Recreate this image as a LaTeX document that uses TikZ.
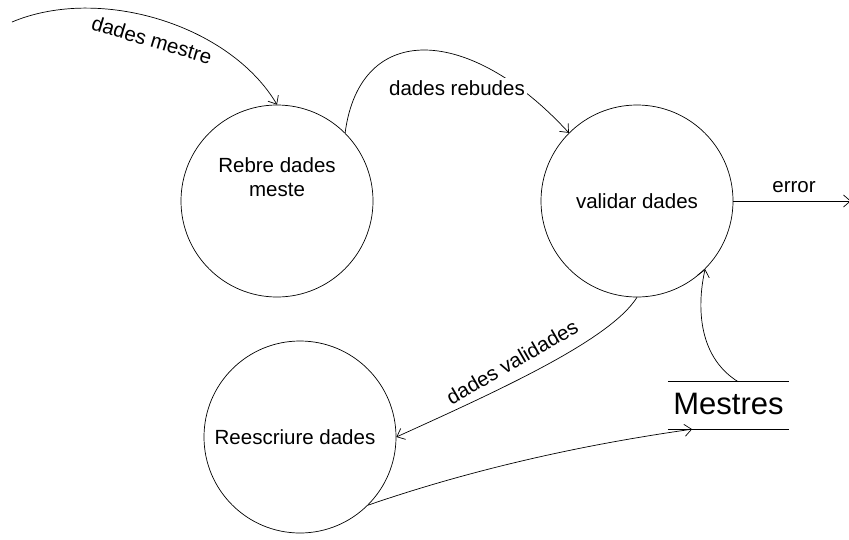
\documentclass[tikz,border=0pt]{standalone}
\usepackage{fontspec}
\setmainfont{Liberation Sans}
\usetikzlibrary{arrows.meta,calc}
\begin{document}
\begin{tikzpicture}[x=1pt,y=-1pt,
  proc/.style={draw,circle,minimum size=192pt,inner sep=0pt,line width=0.7pt},
  flow/.style={line width=0.7pt,-{Straight Barb[length=7pt,width=12pt,line width=0.7pt]}},
  lbl/.style={font=\fontsize{20.5}{24}\selectfont,inner sep=1pt},
  flbl/.style={lbl,fill=white,inner sep=2pt},
  store/.style={minimum width=121pt,minimum height=47pt,inner sep=0pt,font=\fontsize{31}{36}\selectfont}]
\useasboundingbox (0,0) rectangle (849,539);
% processes
\node[proc] (c1) at (277,201) {};
\node[proc] (c2) at (637,201) {};
\node[proc] (c3) at (300,437) {};
\node[lbl,align=center,anchor=base] (t1) at (277,196) {Rebre dades\\meste};
\node[lbl,anchor=base] (t2) at (637,208) {validar dades};
\node[lbl,anchor=base] (t3) at (295,444) {Reescriure dades};
% store
\node[store] (m) at (728.5,405.5) {};
\node[store,anchor=base] (mt) at (728.5,414) {Mestres};
\draw[line width=0.8pt] (m.north west) -- (m.north east);
\draw[line width=0.8pt] (m.south west) -- (m.south east);
\coordinate (mtop) at ($(m.north west)!0.58!(m.north east)$);
\coordinate (mbot) at ($(m.south west)!0.2!(m.south east)$);
\coordinate (src) at (12,22);
\coordinate (err) at (851,201);
% flows
\draw[flow] (src) .. controls (100,-15) and (230,25) .. (c1.north);
\draw[flow] (c1.45) .. controls (360,20) and (470,25) .. (c2.135);
\draw[flow] (c2.south) .. controls (610,340) and (500,390) .. (c3.east);
\draw[flow] (c3.-45) .. controls (470,470) and (580,445) .. (mbot);
\draw[flow] (mtop) .. controls (695,355) and (698,300) .. (c2.-45);
\draw[flow] (c2.east) -- (err);
% labels
\node[flbl,rotate=-16.6] (l1) at (152,40) {dades mestre};
\node[flbl,anchor=base] (l2) at (457,95) {dades rebudes};
\node[lbl,rotate=30] (l3) at (512,362) {dades validades};
\node[lbl,anchor=base] (l4) at (794,192) {error};
\end{tikzpicture}
\end{document}
